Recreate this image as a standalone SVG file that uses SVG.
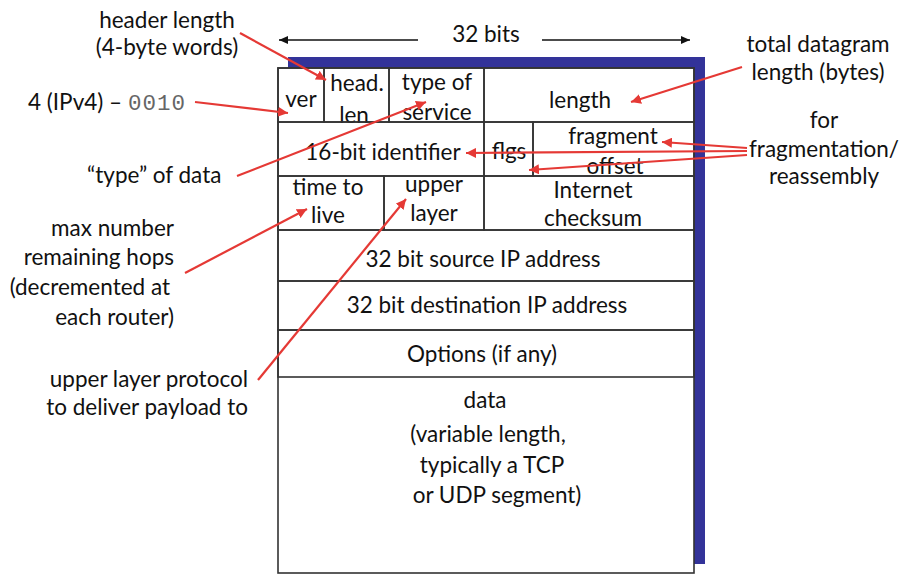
<svg xmlns="http://www.w3.org/2000/svg" width="918" height="584" viewBox="0 0 918 584">
<defs>
<style>
text{font-family:Lato,"Open Sans","Liberation Sans",sans-serif;font-size:22.5px;fill:#111}
.c{text-anchor:middle}
.r{text-anchor:end}
.mono{font-family:"Liberation Mono","DejaVu Sans Mono",monospace;fill:#666;font-size:22.5px;letter-spacing:1px}
.cell{fill:none;stroke:#333;stroke-width:1.6}
.red{stroke:#e53935;stroke-width:2.2;fill:none;marker-end:url(#ra)}
.blk{stroke:#111;stroke-width:1.3;fill:none;marker-end:url(#ba)}
</style>
<marker id="ra" markerUnits="userSpaceOnUse" markerWidth="12" markerHeight="10" refX="10" refY="5" orient="auto"><path d="M0,0 L10,5 L0,10 Z" fill="#e53935"/></marker>
<marker id="ba" markerUnits="userSpaceOnUse" markerWidth="10" markerHeight="8" refX="9" refY="4" orient="auto"><path d="M0,0 L9,4 L0,8 Z" fill="#111"/></marker>
</defs>
<rect width="918" height="584" fill="#fff"/>

<g id="header-width">
<text class="c" x="486" y="42">32 bits</text>
</g>

<g id="datagram">
<rect x="288" y="57" width="417" height="507" fill="#333399"/>
<rect x="278" y="68" width="416" height="505" fill="#fff" stroke="#333" stroke-width="1.6"/>
</g>

<g id="ver"><rect class="cell" x="278" y="68" width="46" height="54"/><text class="c" x="301" y="107">ver</text></g>
<g id="head-len"><rect class="cell" x="324" y="68" width="65" height="54"/><text class="c" x="357" y="91">head.</text><text class="c" x="354" y="123">len</text></g>
<g id="type-of-service"><rect class="cell" x="389" y="68" width="95" height="54"/><text class="c" x="437" y="90">type of</text><text class="c" x="437" y="120">service</text></g>
<g id="length"><rect class="cell" x="484" y="68" width="210" height="54"/><text class="c" x="580" y="108">length</text></g>

<g id="identifier"><rect class="cell" x="278" y="122" width="206" height="54"/><text class="c" x="383" y="160">16-bit identifier</text></g>
<g id="flgs"><rect class="cell" x="484" y="122" width="49" height="54"/><text class="c" x="509" y="159">flgs</text></g>
<g id="fragment-offset"><rect class="cell" x="533" y="122" width="161" height="54"/><text class="c" x="613" y="144">fragment</text><text class="c" x="615" y="174">offset</text></g>

<g id="ttl"><rect class="cell" x="278" y="176" width="106" height="54"/><text class="c" x="328" y="195">time to</text><text class="c" x="328" y="223">live</text></g>
<g id="upper-layer"><rect class="cell" x="384" y="176" width="100" height="54"/><text class="c" x="434" y="192">upper</text><text class="c" x="434" y="221">layer</text></g>
<g id="checksum"><rect class="cell" x="484" y="176" width="210" height="54"/><text class="c" x="593" y="198">Internet</text><text class="c" x="593" y="226">checksum</text></g>

<g id="source"><rect class="cell" x="278" y="230" width="416" height="51"/><text class="c" x="483" y="267">32 bit source IP address</text></g>
<g id="destination"><rect class="cell" x="278" y="281" width="416" height="49"/><text class="c" x="487" y="313">32 bit destination IP address</text></g>
<g id="options"><rect class="cell" x="278" y="330" width="416" height="47"/><text class="c" x="482" y="362">Options (if any)</text></g>
<g id="data"><text class="c" x="485" y="408">data</text><text class="c" x="488" y="442">(variable length,</text><text class="c" x="492" y="473">typically a TCP</text><text class="c" x="497" y="503">or UDP segment)</text></g>

<g id="label-header-length"><text class="c" x="167" y="28">header length</text><text class="c" x="167" y="55">(4-byte words)</text></g>
<g id="label-version"><text x="28" y="110">4 (IPv4) – <tspan class="mono">0010</tspan></text></g>
<g id="label-type"><text x="87" y="183">“type” of data</text></g>
<g id="label-ttl"><text class="r" x="174" y="236">max number</text><text class="r" x="174" y="265">remaining hops</text><text class="r" x="170" y="295">(decremented at</text><text class="r" x="174" y="325">each router)</text></g>
<g id="label-protocol"><text class="r" x="248" y="387">upper layer protocol</text><text class="r" x="248" y="415">to deliver payload to</text></g>
<g id="label-total-length"><text class="c" x="818" y="52">total datagram</text><text class="c" x="818" y="80">length (bytes)</text></g>
<g id="label-fragmentation"><text class="c" x="824" y="128">for</text><text class="c" x="824" y="157">fragmentation/</text><text class="c" x="824" y="184">reassembly</text></g>

<g id="connectors">
<path class="blk" d="M418,40 L279,40"/>
<path class="blk" d="M542,40 L690,40"/>
<path class="red" d="M240,33 L326,80"/>
<path class="red" d="M195,102 L288,113"/>
<path class="red" d="M237,176 L426,102"/>
<path class="red" d="M742,67 L631,102"/>
<path class="red" d="M747,148 L662,142"/>
<path class="red" d="M747,151 L466,153"/>
<path class="red" d="M747,155 L529,170"/>
<path class="red" d="M185,273 L307,209"/>
<path class="red" d="M258,380 L406,199"/>
</g>
</svg>
